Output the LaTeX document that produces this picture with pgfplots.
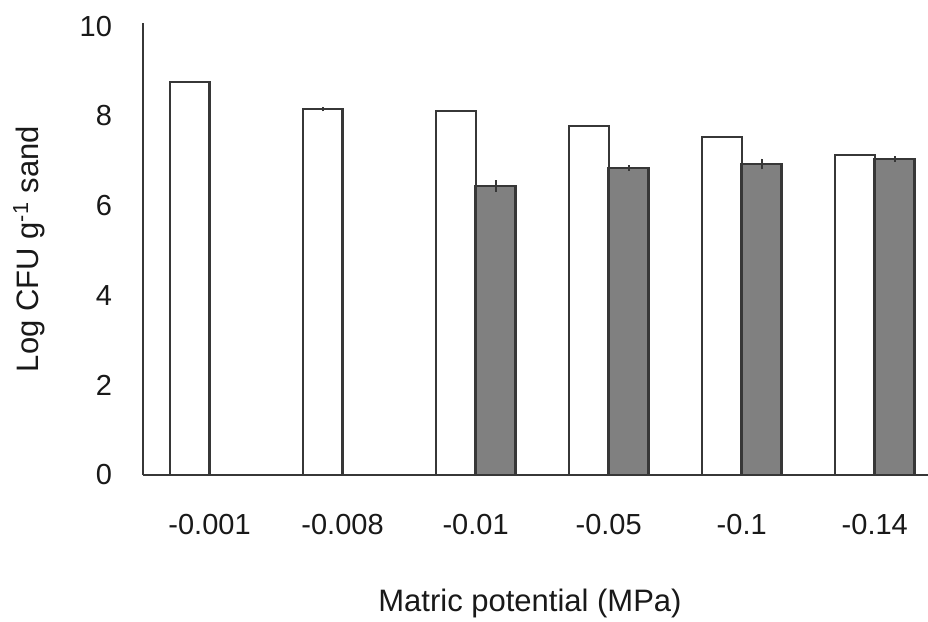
\documentclass[border=0pt]{standalone}
\usepackage{fontspec}
\setmainfont{Liberation Sans}
\usepackage{pgfplots}
\pgfplotsset{compat=1.18}
\definecolor{axisgray}{RGB}{55,55,55}
\definecolor{barfill}{RGB}{128,128,128}
\definecolor{txt}{RGB}{25,25,25}
\begin{document}
\begin{tikzpicture}
\useasboundingbox[fill=white] (0,0) rectangle (464pt,311pt);
\begin{axis}[
    at={(71.5pt,73.5pt)}, anchor=south west,
    scale only axis,
    width=392.5pt, height=226pt,
    ybar=0pt, bar width=0.3,
    xmin=-0.5, xmax=5.4,
    ymin=0, ymax=10.07,
    axis x line*=bottom, axis y line*=left,
    axis line style={axisgray,line width=1.2pt,-},
    xtick={0,1,2,3,4,5},
    xticklabels={-0.001,-0.008,-0.01,-0.05,-0.1,-0.14},
    ytick={0,2,4,6,8,10},
    major tick length=0pt,
    tick style={draw=none},
    /pgf/number format/assume math mode=true,
    ticklabel style={font=\fontsize{14.5}{16}\selectfont, text=txt},
    xticklabel shift=16pt,
    yticklabel shift=12pt,
    xlabel={Matric potential (MPa)},
    ylabel={Log CFU g\textsuperscript{-1} sand},
    xlabel style={font=\fontsize{15.5}{17}\selectfont, text=txt,
      at={(axis description cs:0.493,-0.285)}, anchor=center},
    ylabel style={font=\fontsize{15.5}{17}\selectfont, text=txt,
      at={(axis description cs:-0.145,0.5)}, anchor=center},
    clip=false,
  ]
  % white bars
  \addplot[draw=axisgray, fill=white, line width=1.1pt,
    error bars/.cd, y dir=both, y explicit, error mark=none,
    error bar style={line width=1pt, color=axisgray}]
    table[x=x, y=y, y error=e] {
      x y e
      0 8.76 0.00
      1 8.15 0.05
      2 8.11 0.00
      3 7.77 0.00
      4 7.53 0.00
      5 7.13 0.00
    };
  % grey bars
  \addplot[draw=axisgray, fill=barfill, line width=1.3pt,
    error bars/.cd, y dir=both, y explicit, error mark=none,
    error bar style={line width=1pt, color=axisgray}]
    table[x=x, y=y, y error=e] {
      x y e
      2 6.44 0.13
      3 6.84 0.06
      4 6.93 0.12
      5 7.04 0.06
    };
\end{axis}
\end{tikzpicture}
\end{document}
